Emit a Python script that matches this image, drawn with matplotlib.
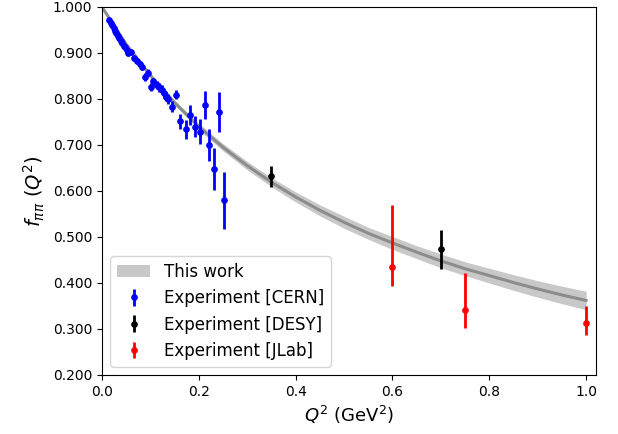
import matplotlib
matplotlib.use("Agg")
import matplotlib.pyplot as plt
from matplotlib.ticker import FormatStrFormatter

# Band "This work"
q2_band = [0.00, 0.05, 0.10, 0.15, 0.20, 0.25, 0.30, 0.35, 0.40, 0.45, 0.50,
           0.55, 0.60, 0.65, 0.70, 0.75, 0.80, 0.85, 0.90, 0.95, 1.00]
f_band = [1.000, 0.919, 0.851, 0.792, 0.740, 0.695, 0.655, 0.619, 0.587, 0.558, 0.532,
          0.508, 0.487, 0.467, 0.448, 0.431, 0.416, 0.401, 0.387, 0.374, 0.362]
f_band_err = [0.000, 0.002, 0.004, 0.005, 0.007, 0.008, 0.009, 0.010, 0.011, 0.012, 0.013,
              0.013, 0.014, 0.014, 0.015, 0.015, 0.016, 0.017, 0.018, 0.019, 0.020]

# CERN
q2_cern = [0.015, 0.018, 0.021, 0.024, 0.027, 0.030, 0.033, 0.036, 0.039, 0.042, 0.045,
           0.048, 0.051, 0.054, 0.060, 0.067, 0.072, 0.078, 0.082, 0.089, 0.095,
           0.101, 0.106, 0.113, 0.118, 0.123, 0.128, 0.133, 0.137, 0.144, 0.152,
           0.162, 0.173, 0.182, 0.192, 0.202, 0.212, 0.221, 0.232, 0.241, 0.252]
f_cern = [0.971, 0.965, 0.960, 0.954, 0.948, 0.943, 0.937, 0.933, 0.927, 0.921, 0.916,
          0.912, 0.906, 0.899, 0.901, 0.888, 0.883, 0.876, 0.870, 0.848, 0.857,
          0.826, 0.838, 0.830, 0.825, 0.820, 0.812, 0.805, 0.799, 0.783, 0.809,
          0.751, 0.734, 0.765, 0.740, 0.729, 0.787, 0.700, 0.648, 0.772, 0.580]
err_cern = [0.004, 0.004, 0.004, 0.004, 0.004, 0.005, 0.005, 0.005, 0.005, 0.005, 0.005,
            0.005, 0.006, 0.006, 0.006, 0.006, 0.006, 0.007, 0.007, 0.008, 0.008,
            0.008, 0.008, 0.009, 0.009, 0.010, 0.010, 0.010, 0.011, 0.012, 0.010,
            0.016, 0.020, 0.021, 0.023, 0.027, 0.030, 0.034, 0.045, 0.043, 0.062]

# DESY
q2_desy = [0.35, 0.70]
f_desy = [0.632, 0.473]
err_desy = [0.023, 0.042]

# JLab (asymmetric errors)
q2_jlab = [0.60, 0.75, 1.00]
f_jlab = [0.434, 0.341, 0.312]
err_jlab_lo = [0.040, 0.038, 0.025]
err_jlab_hi = [0.136, 0.080, 0.038]

fig = plt.figure(figsize=(6.18, 4.34), dpi=100)
ax = fig.add_axes([0.165, 0.136, 0.799, 0.848])

lo = [f - e for f, e in zip(f_band, f_band_err)]
hi = [f + e for f, e in zip(f_band, f_band_err)]
ax.fill_between(q2_band, lo, hi, color="#c8c8c8", linewidth=0, label="This work")
ax.plot(q2_band, f_band, color="#8c8c8c", linewidth=2.2)

ax.errorbar(q2_cern, f_cern, yerr=err_cern, fmt="o", color="blue", markersize=3.8,
            elinewidth=2, capsize=0, label="Experiment [CERN]")
ax.errorbar(q2_desy, f_desy, yerr=err_desy, fmt="o", color="black", markersize=3.8,
            elinewidth=2, capsize=0, label="Experiment [DESY]")
ax.errorbar(q2_jlab, f_jlab, yerr=[err_jlab_lo, err_jlab_hi], fmt="o", color="red",
            markersize=3.8, elinewidth=2, capsize=0, label="Experiment [JLab]")

ax.set_xlim(0, 1.02)
ax.set_ylim(0.2, 1.0)
ax.yaxis.set_major_formatter(FormatStrFormatter("%.3f"))
ax.tick_params(labelsize=10)
ax.set_xlabel(r"$Q^2$ (GeV$^2$)", fontsize=13)
ax.set_ylabel(r"$f_{\pi\pi}$ $(Q^2)$", fontsize=14)
ax.legend(loc="lower left", fontsize=12)

fig.savefig("out.png", dpi=100)
